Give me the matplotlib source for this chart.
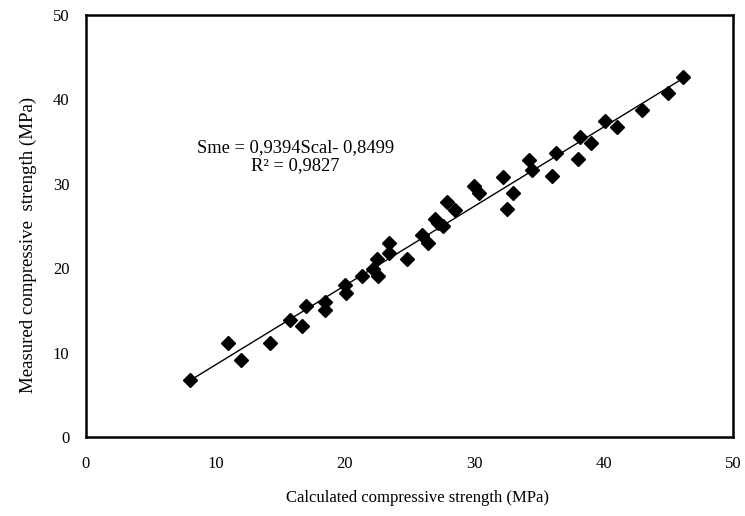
import numpy as np
import matplotlib.pyplot as plt

plt.rcParams['font.family'] = ['Liberation Serif', 'DejaVu Serif']

# calculated vs measured compressive strength (MPa)
s_cal = [8.0, 11.0, 12.0, 14.2, 15.8, 16.7, 17.0, 18.5, 18.5, 20.0, 20.1,
         21.3, 22.2, 22.5, 22.6, 23.4, 23.4, 24.8, 26.0, 26.4, 27.0, 27.2,
         27.6, 27.9, 28.5, 30.0, 30.4, 32.2, 32.5, 33.0, 34.2, 34.5, 36.0,
         36.3, 38.0, 38.2, 39.0, 40.1, 41.0, 43.0, 45.0, 46.1]
s_me = [6.8, 11.1, 9.1, 11.1, 13.9, 13.2, 15.5, 16.0, 15.0, 18.0, 17.1,
        19.1, 19.9, 21.1, 19.1, 21.8, 23.0, 21.1, 23.9, 23.0, 25.8, 25.4,
        25.0, 27.9, 26.9, 29.7, 28.9, 30.8, 27.0, 28.9, 32.8, 31.6, 30.9,
        33.6, 32.9, 35.5, 34.8, 37.4, 36.7, 38.7, 40.8, 42.7]

slope = 0.9394
intercept = -0.8499
r2 = 0.9827

ticks = [0, 10, 20, 30, 40, 50]

fig = plt.figure(figsize=(7.45, 5.16), dpi=100)
ax = fig.add_axes([0.1154, 0.153, 0.8686, 0.818])

xl = np.array([min(s_cal), max(s_cal)])
ax.plot(xl, slope * xl + intercept, color='black', linewidth=1.0)
ax.plot(s_cal, s_me, linestyle='none', marker='D', markersize=7.5,
        color='black')

ax.set_xlim(0, 50)
ax.set_ylim(0, 50)
ax.set_xticks(ticks)
ax.set_yticks(ticks)
ax.tick_params(length=0, labelsize=12, pad=14)
ax.tick_params(axis='y', pad=12)
for sp in ax.spines.values():
    sp.set_linewidth(1.8)

ax.set_xlabel('Calculated compressive strength (MPa)', fontsize=12)
ax.xaxis.set_label_coords(0.513, -0.126)
ax.set_ylabel('Measured compressive  strength (MPa)', fontsize=13.6)
ax.yaxis.set_label_coords(-0.075, 0.455)

ax.text(16.2, 33.2, 'Sme = 0,9394Scal- 0,8499\nR² = 0,9827', ha='center',
        va='center', fontsize=13.3, linespacing=1.1)

fig.savefig('out.png', dpi=100)
